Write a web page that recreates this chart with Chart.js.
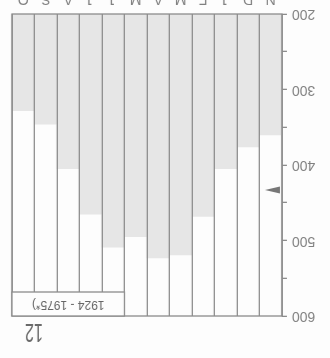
<!DOCTYPE html>
<html>
<head>
<meta charset="utf-8">
<script src="https://cdn.jsdelivr.net/npm/chart.js@4.4.1/dist/chart.umd.min.js"></script>
<style>
  html, body { margin: 0; padding: 0; background: #fff; }
  /* la figura original esta impresa al reves: se dibuja derecha y se gira */
  #pagina { position: relative; width: 330px; height: 358px; overflow: hidden; transform: rotate(180deg); background: #fdfdfd; }
  #grafico { position: absolute; left: 0; top: 0; }
  #numero { position: absolute; left: 287px; top: 12px; font: 26px 'Liberation Sans', sans-serif; line-height: 1; color: #6a6a6a; transform: scaleX(0.62); transform-origin: left top; }
</style>
</head>
<body>
<div id="pagina">
  <canvas id="grafico" width="330" height="372"></canvas>
  <div id="numero">12</div>
</div>
<script>
// Datos
const meses = ['N', 'D', 'J', 'F', 'M', 'A', 'M', 'J', 'J', 'A', 'S', 'O'];
const valores = [360, 376, 405, 468, 519, 523, 495, 509, 465, 405, 346, 328];
const periodo = '1924 - 1975*)';

const media = valores.reduce((a, b) => a + b, 0) / valores.length;
const gris = '#8c8c8c';

// marco, caja del periodo y triangulo de la media
const extras = {
    id: 'extras',
    afterDraw(chart) {
        const { ctx, chartArea: a, scales: { x, y } } = chart;
        ctx.save();
        ctx.strokeStyle = gris;
        ctx.lineWidth = 1.3;
        ctx.strokeRect(a.left, a.top, a.right - a.left, a.bottom - a.top);

        const ancho = x.getPixelForValue(1) - x.getPixelForValue(0);
        const bx = x.getPixelForValue(7) - ancho / 2;
        ctx.fillStyle = '#fdfdfd';
        ctx.fillRect(bx, a.top, a.right - bx, 24);
        ctx.strokeRect(bx, a.top, a.right - bx, 24);
        ctx.fillStyle = '#666';
        ctx.font = '12px "Liberation Sans"';
        ctx.textAlign = 'center';
        ctx.textBaseline = 'middle';
        ctx.fillText(periodo, (bx + a.right) / 2, a.top + 12);

        const ym = y.getPixelForValue(media);
        ctx.fillStyle = '#777';
        ctx.beginPath();
        ctx.moveTo(a.left + 2, ym - 3.5);
        ctx.lineTo(a.left + 17, ym);
        ctx.lineTo(a.left + 2, ym + 3.5);
        ctx.closePath();
        ctx.fill();
        ctx.restore();
    }
};

new Chart(document.getElementById('grafico').getContext('2d'), {
    type: 'bar',
    data: {
        labels: meses,
        datasets: [{
            data: valores,
            backgroundColor: '#e6e6e6',
            borderWidth: 0,
            barPercentage: 1,
            categoryPercentage: 1
        }]
    },
    options: {
        responsive: false,
        animation: false,
        devicePixelRatio: 1,
        layout: { padding: { top: 42, right: 12, left: 0, bottom: 0 } },
        plugins: {
            legend: { display: false },
            tooltip: { enabled: false }
        },
        scales: {
            x: {
                grid: { z: 1, offset: true, color: gris, lineWidth: 1.3, drawTicks: false },
                border: { display: false },
                ticks: {
                    color: '#808080',
                    font: { family: 'Liberation Sans', size: 14 },
                    padding: 7,
                    autoSkip: false,
                    maxRotation: 0
                },
                afterFit(s) { s.height = 28; }
            },
            y: {
                min: 200,
                max: 600,
                ticks: {
                    stepSize: 50,
                    color: '#808080',
                    font: { family: 'Liberation Sans', size: 14 },
                    padding: 5,
                    callback: v => (v % 100 === 0 ? v : '')
                },
                grid: { drawOnChartArea: false, color: gris, lineWidth: 1.3, tickLength: 5 },
                border: { color: gris, width: 1.3 },
                afterFit(s) { s.width = 48; }
            }
        }
    },
    plugins: [extras]
});
</script>
</body>
</html>
